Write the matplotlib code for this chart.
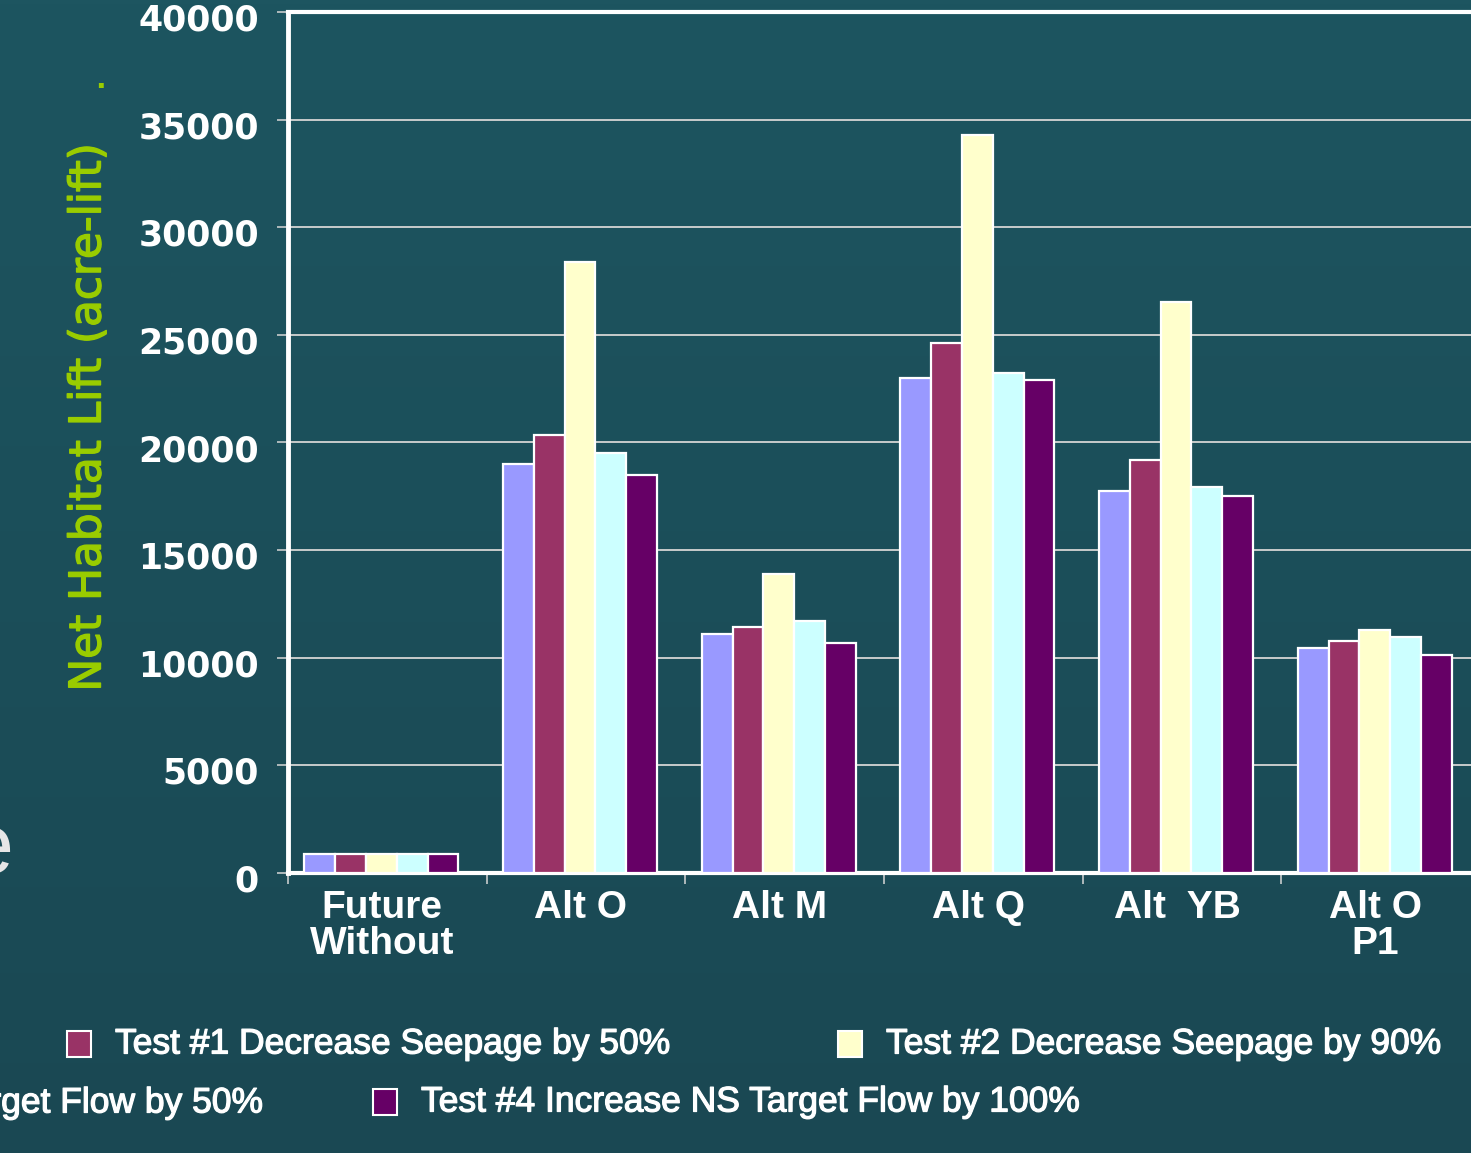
import numpy as np
import matplotlib
matplotlib.use("Agg")
import matplotlib.pyplot as plt
import matplotlib.patheffects as pe
from matplotlib.patches import Rectangle
from matplotlib.transforms import ScaledTranslation

# categories and series
categories = ["Future\nWithout", "Alt O", "Alt M", "Alt Q", "Alt  YB", "Alt O\nP1"]
series_names = [
    "Base",
    "Test #1 Decrease Seepage by 50%",
    "Test #2 Decrease Seepage by 90%",
    "Test #3 Increase NS Target Flow by 50%",
    "Test #4 Increase NS Target Flow by 100%",
]
base_vals = [880, 19000, 11100, 23000, 17750, 10450]
test1_vals = [880, 20350, 11450, 24600, 19200, 10800]
test2_vals = [880, 28400, 13900, 34300, 26550, 11300]
test3_vals = [880, 19500, 11700, 23250, 17950, 10950]
test4_vals = [880, 18500, 10700, 22900, 17500, 10150]
y_ticks = [0, 5000, 10000, 15000, 20000, 25000, 30000, 35000, 40000]

COLORS = ["#9999ff", "#993366", "#ffffcc", "#ccffff", "#660066"]
BG_TOP = "#1d5560"
BG_BOTTOM = "#1a4853"
GREEN = "#99cc00"

W, H = 1471, 1153
fig = plt.figure(figsize=(W / 100, H / 100), dpi=100)
fig.patch.set_facecolor(BG_TOP)

# background gradient
bg = fig.add_axes((0, 0, 1, 1), zorder=-10)
bg.axis("off")
grad = np.linspace(0, 1, 256).reshape(-1, 1)
cmap = matplotlib.colors.LinearSegmentedColormap.from_list("bg", [BG_TOP, BG_BOTTOM])
bg.imshow(grad, aspect="auto", cmap=cmap, extent=(0, 1, 0, 1))


def px(x, y):
    return x / W, 1 - y / H


def shift(artist, dx, dy):
    # move a text by pixels (dy positive = down)
    artist.set_transform(artist.get_transform()
                         + ScaledTranslation(dx / 100, -dy / 100, fig.dpi_scale_trans))


left, top = px(288, 12)
right, bottom = px(1480, 873)
ax = fig.add_axes((left, bottom, right - left, top - bottom))
ax.set_facecolor("none")

all_vals = [base_vals, test1_vals, test2_vals, test3_vals, test4_vals]
x = np.arange(len(categories))
bw = 0.155
for i, (vals, c) in enumerate(zip(all_vals, COLORS)):
    ax.bar(x - 0.03 + (i - 2) * bw, vals, width=bw, color=c,
           edgecolor="white", linewidth=1.6, zorder=3)

ax.set_xlim(-0.5, len(categories) - 0.5)
ax.set_ylim(0, 40000)
ax.set_yticks(y_ticks)
ax.set_yticklabels([str(v) for v in y_ticks])
ax.grid(axis="y", color="#c8cccc", linewidth=1.4, zorder=0)

for side in ["left", "top", "bottom"]:
    ax.spines[side].set_color("white")
    ax.spines[side].set_linewidth(3.0)
ax.spines["right"].set_visible(False)
ax.spines["left"].set_linewidth(3.5)

ax.tick_params(axis="y", direction="out", length=8, width=1.2,
               color="#c8cccc", pad=13)
for lab in ax.get_yticklabels():
    lab.set_fontfamily("DejaVu Sans")
    lab.set_fontweight("bold")
    lab.set_fontsize(25)
    lab.set_color("white")
    shift(lab, 0, 5)

ax.set_xticks(x)
ax.set_xticklabels(categories)
ax.set_xticks(np.arange(len(categories) + 1) - 0.5, minor=True)
ax.tick_params(axis="x", which="major", length=0, pad=12)
ax.tick_params(axis="x", which="minor", direction="out", length=8,
               width=1.2, color="#c8cccc")
for lab in ax.get_xticklabels():
    lab.set_fontfamily("Liberation Sans")
    lab.set_fontweight("bold")
    lab.set_fontsize(28)
    lab.set_color("white")
    lab.set_linespacing(1.02)
    lab.set_verticalalignment("top")
    shift(lab, -5, 0)

thick_green = [pe.withStroke(linewidth=1.0, foreground=GREEN)]
thick_white = [pe.withStroke(linewidth=0.9, foreground="white")]

# y axis label
fig.text(*px(88, 418), "Net Habitat Lift (acre-lift)", rotation=90,
         ha="center", va="center", color=GREEN,
         fontsize=31.5, family="DejaVu Sans", path_effects=thick_green)
fig.text(*px(100, 80), ".", ha="center", va="center", color=GREEN,
         fontsize=20, family="DejaVu Sans", fontweight="bold")

# fragment of slide text cut at the left edge
fig.text(*px(13, 873), "e", ha="right", va="baseline", color="#e6e6e6",
         fontsize=62, family="Liberation Sans")

# legend drawn by hand, it is cropped in the reference
legend_items = [
    (1, 67, 1044, "left"),
    (2, 838, 1044, "left"),
    (3, 263, 1103, "right"),
    (4, 373, 1102, "left"),
]
for idx, mx, my, align in legend_items:
    if align == "left":
        x0, y0 = px(mx, my + 13)
        fig.add_artist(Rectangle((x0, y0), 24 / W, 26 / H,
                                 transform=fig.transFigure,
                                 facecolor=COLORS[idx], edgecolor="white",
                                 linewidth=1.5))
        fig.text(*px(mx + 48, my), series_names[idx], ha="left", va="center",
                 color="white", fontsize=25.5, family="Liberation Sans",
                 path_effects=thick_white)
    else:
        fig.text(*px(mx, my), series_names[idx], ha="right", va="center",
                 color="white", fontsize=25.5, family="Liberation Sans",
                 path_effects=thick_white)

fig.savefig("out.png", dpi=100, facecolor=fig.get_facecolor())
